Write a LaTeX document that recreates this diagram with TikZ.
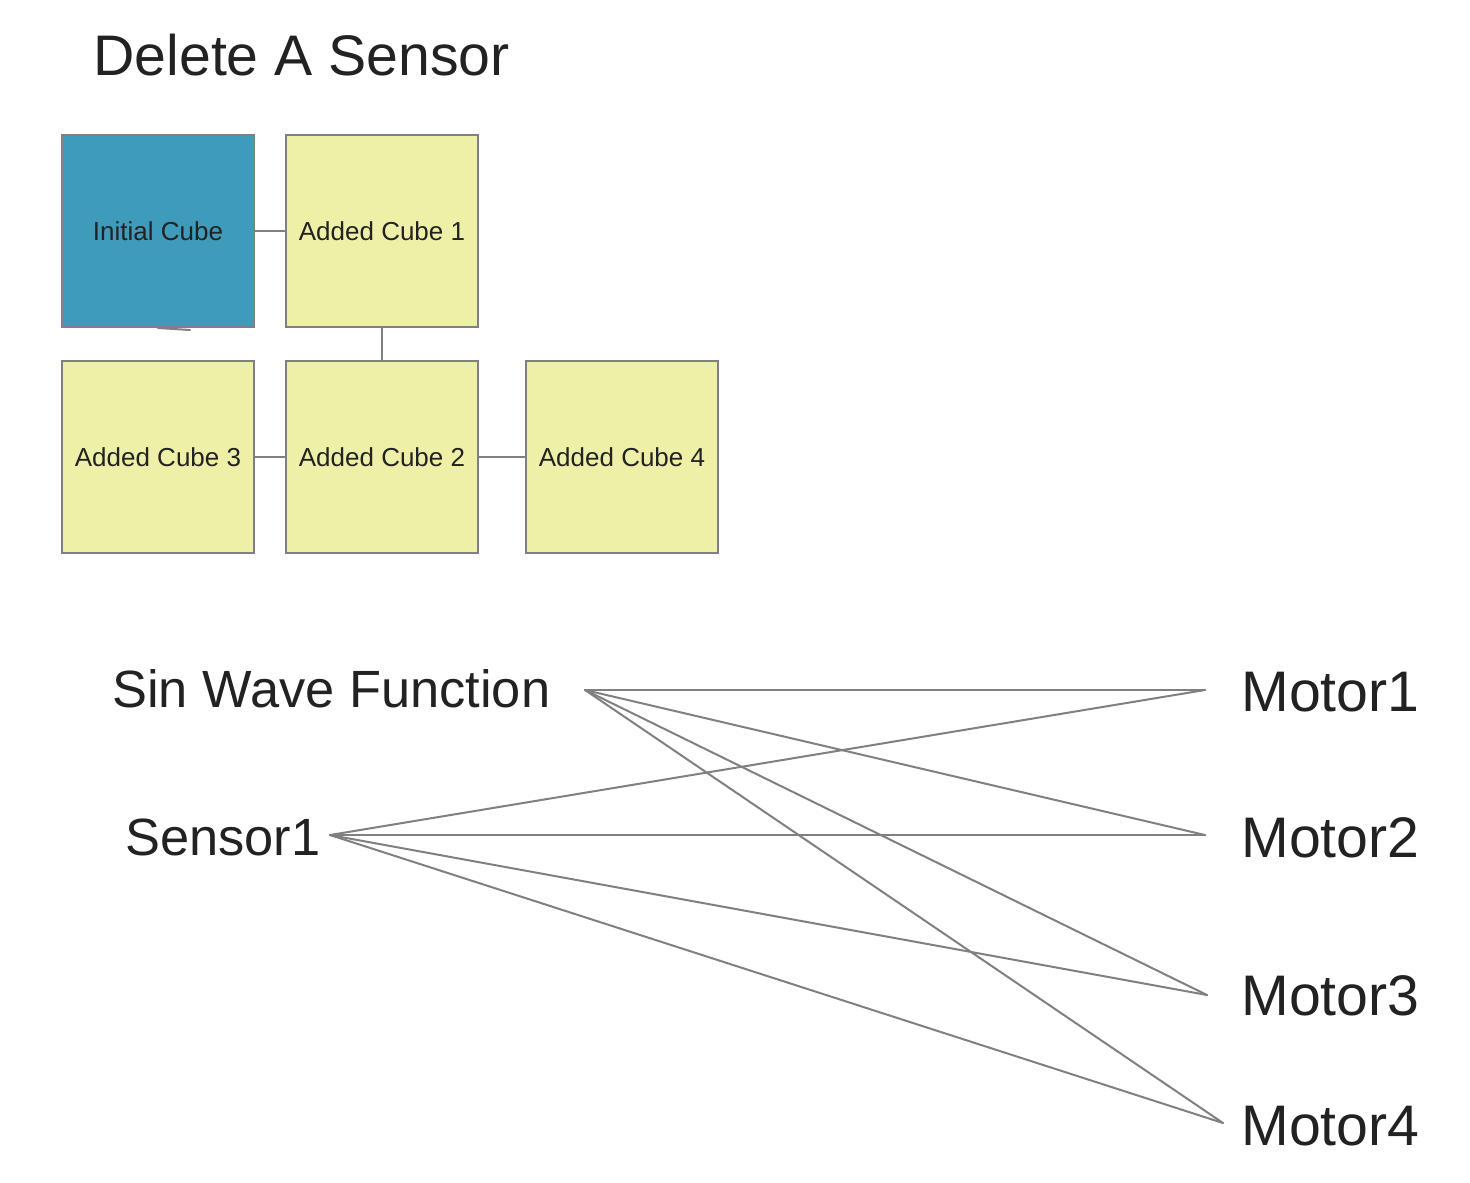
\documentclass[tikz,border=0pt]{standalone}
\usepackage{fontspec}
\setmainfont{Liberation Sans}
\usepackage{tikz}
\definecolor{cubeTeal}{HTML}{3E9BBA}
\definecolor{cubeKhaki}{HTML}{EFF0A8}
\definecolor{edgeGray}{HTML}{808080}
\definecolor{inkDark}{HTML}{222222}
\tikzset{
	cube/.style={draw=edgeGray, line width=1pt, minimum width=96pt, minimum height=96pt, inner sep=0pt, font=\fontsize{13}{15}\selectfont, text=inkDark},
	link/.style={draw=edgeGray, line width=1pt},
	bigtext/.style={inner sep=0pt, anchor=base west, font=\fontsize{28.6}{32}\selectfont, text=inkDark},
	midtext/.style={bigtext, font=\fontsize{26.2}{30}\selectfont}
}

\begin{document}
\begin{tikzpicture}[x=0.5pt, y=-0.5pt, line cap=round]
	\useasboundingbox (0,0) rectangle (1470,1182);

	\node[bigtext] (title) at (93,76) {Delete A Sensor};

	% cubes
	\node[cube, fill=cubeTeal] (initial) at (158,231) {Initial Cube};
	\node[cube, fill=cubeKhaki] (added1) at (382,231) {Added Cube 1};
	\node[cube, fill=cubeKhaki] (added3) at (158,457) {Added Cube 3};
	\node[cube, fill=cubeKhaki] (added2) at (382,457) {Added Cube 2};
	\node[cube, fill=cubeKhaki] (added4) at (622,457) {Added Cube 4};

	\draw[link] (initial) -- (added1);
	\draw[link] (added1) -- (added2);
	\draw[link] (added3) -- (added2);
	\draw[link] (added2) -- (added4);
	\draw[link] (158,328) -- (190,330);

	% sensors and motors
	\node[midtext] (sinwave) at (112,707) {Sin Wave Function};
	\node[midtext] (sensor1) at (125,855) {Sensor1};
	\node[bigtext] (motor1) at (1241,711) {Motor1};
	\node[bigtext] (motor2) at (1241,857) {Motor2};
	\node[bigtext] (motor3) at (1241,1015) {Motor3};
	\node[bigtext] (motor4) at (1241,1145) {Motor4};

	\coordinate (sinwaveOut) at (585,690);
	\coordinate (sensor1Out) at (330,835);
	\coordinate (motor1In) at (1205,690);
	\coordinate (motor2In) at (1205,835);
	\coordinate (motor3In) at (1207,995);
	\coordinate (motor4In) at (1223,1123);

	\foreach \m in {1,...,4} {
		\draw[link] (sinwaveOut) -- (motor\m In);
		\draw[link] (sensor1Out) -- (motor\m In);
	}
\end{tikzpicture}
\end{document}
